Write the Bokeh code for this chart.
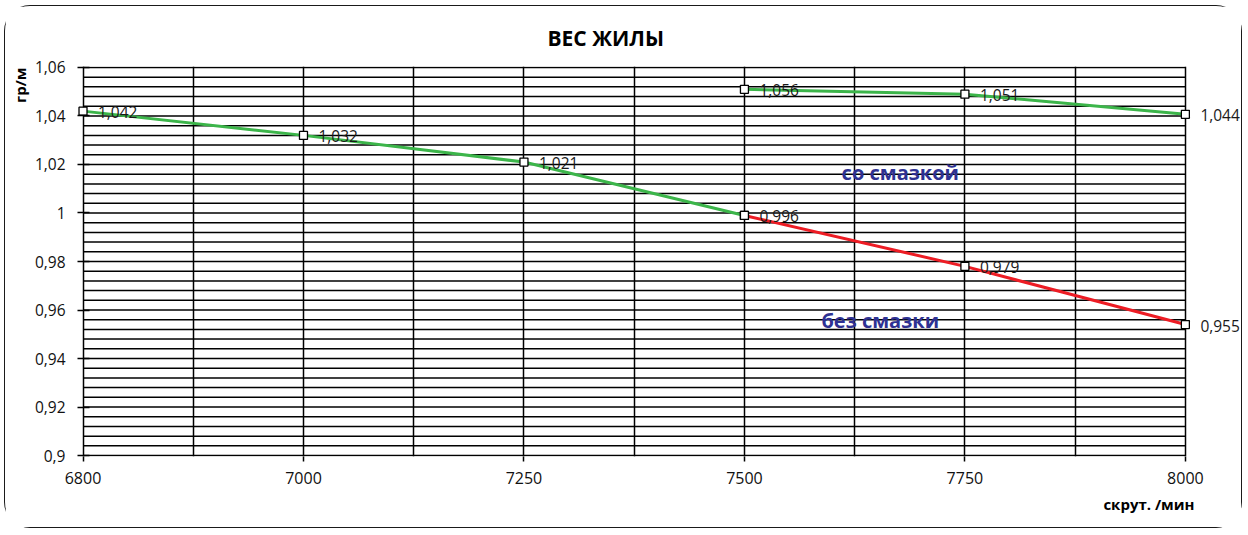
from bokeh.plotting import figure
from bokeh.models import Range1d, FixedTicker, LabelSet, Label, ColumnDataSource, Title
from bokeh.core.properties import value
from bokeh.embed import file_html
from bokeh.resources import INLINE

# ---------------- data ----------------
categories = ["6800", "7000", "7250", "7500", "7750", "8000"]
y_ticks = [0.90, 0.92, 0.94, 0.96, 0.98, 1.00, 1.02, 1.04, 1.06]
y_tick_labels = ["0,9", "0,92", "0,94", "0,96", "0,98", "1", "1,02", "1,04", "1,06"]
y_minor_step = 0.004

# "со смазкой" – first part (6800..7500)
green_a_cat = ["6800", "7000", "7250", "7500"]
green_a_val = [1.042, 1.032, 1.021, 0.999]
green_a_lbl = ["1,042", "1,032", "1,021", "0,996"]

# "без смазки" (7500..8000)
red_cat = ["7500", "7750", "8000"]
red_val = [0.999, 0.978, 0.954]
red_lbl = ["", "0,979", "0,955"]

# "со смазкой" – upper part (7500..8000)
green_b_cat = ["7500", "7750", "8000"]
green_b_val = [1.051, 1.049, 1.0407]
green_b_lbl = ["1,056", "1,051", "1,044"]

FONT = "Open Sans"
GREEN = "#3cb54a"
RED = "#ed1c24"
NAVY = "#2e3192"
LW = 1.5

idx = {c: i for i, c in enumerate(categories)}
last = len(categories) - 1
eps = 0.0004

p = figure(width=1238, height=523,
           x_range=Range1d(-0.025, last + 0.25),
           y_range=Range1d(y_ticks[0] - eps, y_ticks[-1] + eps),
           output_backend="svg", toolbar_location=None,
           min_border_left=72, min_border_right=3,
           min_border_top=59, min_border_bottom=73)
p.styles = {"border": "1.3px solid #1a1a1a", "border-radius": "26px",
            "margin": "5px 0px 0px 4px"}
p.background_fill_color = "white"
p.border_fill_color = "white"
p.outline_line_color = None

# horizontal grid lines, spanning the category range only
grid_y = []
n = int(round((y_ticks[-1] - y_ticks[0]) / y_minor_step))
for k in range(n + 1):
    grid_y.append(round(y_ticks[0] + k * y_minor_step, 4))
p.ygrid.visible = False
p.segment(x0=[0] * len(grid_y), x1=[last] * len(grid_y), y0=grid_y, y1=grid_y,
          line_color="black", line_width=LW)

# vertical grid lines (categories and midpoints)
p.xgrid.ticker = FixedTicker(ticks=[k * 0.5 for k in range(2 * last + 1)])
p.xgrid.grid_line_color = "black"
p.xgrid.grid_line_width = LW

# axes
p.xaxis.ticker = FixedTicker(ticks=list(range(len(categories))))
p.xaxis.major_label_overrides = {i: c for i, c in enumerate(categories)}
p.yaxis.ticker = FixedTicker(ticks=y_ticks)
p.yaxis.major_label_overrides = {t: l for t, l in zip(y_ticks, y_tick_labels)}
for ax in (p.xaxis, p.yaxis):
    ax.axis_line_color = None
    ax.major_tick_line_color = "black"
    ax.major_tick_line_width = LW
    ax.minor_tick_line_color = None
    ax.major_label_text_font = FONT
    ax.major_label_text_color = "#111111"
p.xaxis.major_tick_in = 0
p.xaxis.major_tick_out = 5
p.xaxis.major_label_standoff = 10
p.xaxis.major_label_text_font_size = "16px"
p.yaxis.major_tick_in = 12
p.yaxis.major_tick_out = 0
p.yaxis.major_label_standoff = 12
p.yaxis.major_label_text_font_size = "15.5px"

# series
def draw(cats, vals, lbls, color):
    src = ColumnDataSource(dict(x=[idx[c] for c in cats], y=vals, lbl=lbls))
    p.line("x", "y", source=src, line_color=color, line_width=3)
    return src

s1 = draw(green_a_cat, green_a_val, green_a_lbl, GREEN)
s2 = draw(red_cat, red_val, red_lbl, RED)
s3 = draw(green_b_cat, green_b_val, green_b_lbl, GREEN)
for s in (s1, s2, s3):
    p.scatter("x", "y", source=s, marker="square", size=8,
              fill_color="white", line_color="black", line_width=1.3)
    p.add_layout(LabelSet(x="x", y="y", text="lbl", source=s,
                          x_offset=15, y_offset=-1,
                          text_font=value(FONT), text_font_size="15.5px",
                          text_color="#1a1a1a", text_baseline="middle",
                          text_align="left"))

# titles outside the frame
p.add_layout(Title(text="ВЕС ЖИЛЫ", align="left", offset=470, standoff=30,
                   text_font=FONT, text_font_size="21px", text_font_style="bold",
                   text_color="black"), "above")
p.add_layout(Title(text="гр/м", align="right", offset=1, standoff=3,
                   text_font=FONT, text_font_size="15px", text_font_style="bold",
                   text_color="black"), "left")
p.add_layout(Title(text="скрут. /мин", align="right", offset=46, standoff=14,
                   vertical_align="top",
                   text_font=FONT, text_font_size="15px", text_font_style="bold",
                   text_color="black"), "below")

# annotations inside the chart
def add_text(x, y, text):
    p.add_layout(Label(x=x, y=y, text=text, text_font=FONT,
                       text_font_size="20px", text_color=NAVY,
                       text_font_style="bold",
                       text_align="center", text_baseline="middle"))

add_text(3.707, 1.0165, "со смазкой")
add_text(3.616, 0.9555, "без смазки")

open("out.html", "w").write(file_html(p, INLINE))
